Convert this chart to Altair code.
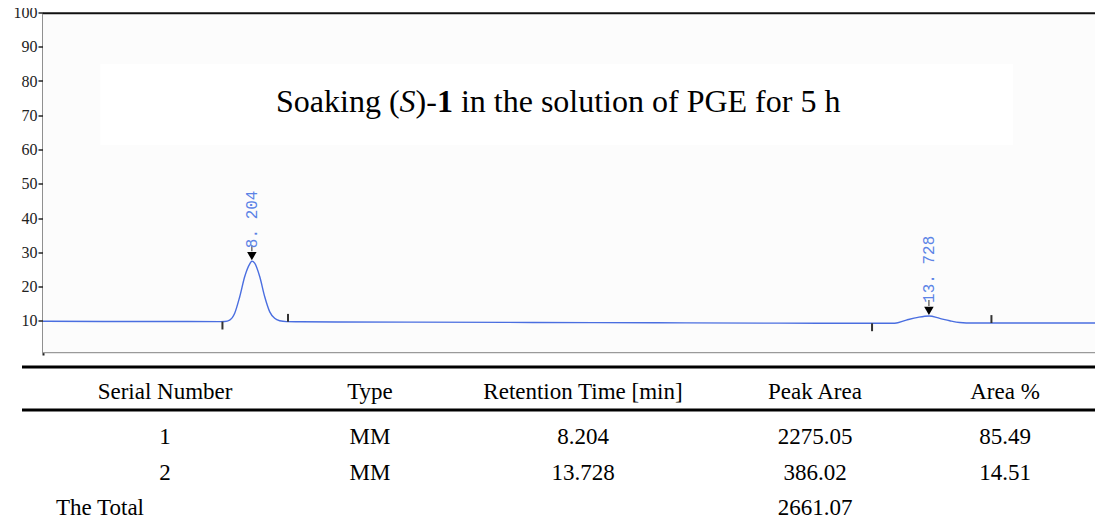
import altair as alt
import pandas as pd

# ---------------- data ----------------
# chromatogram trace: retention time (min) and detector signal
trace_time = [6.5, 7.0, 7.5, 7.95, 7.982, 8.023, 8.064, 8.105, 8.146, 8.187,
              8.205, 8.227, 8.268, 8.309, 8.350, 8.390, 8.431, 8.486, 8.6,
              9.5, 10.5, 11.5, 12.5, 13.2, 13.449, 13.544, 13.639, 13.729,
              13.816, 13.898, 13.979, 14.088, 14.248, 14.6, 15.083]
trace_signal = [9.85, 9.8, 9.78, 9.75, 9.78, 10.2, 12.2, 17.0, 22.9, 26.6,
                27.4, 26.8, 22.9, 17.0, 12.6, 10.7, 10.0, 9.75, 9.7,
                9.6, 9.5, 9.4, 9.3, 9.25, 9.28, 10.2, 11.0, 11.4,
                10.7, 10.0, 9.5, 9.35, 9.35, 9.35, 9.35]

peak_times = [8.204, 13.728]
peak_heights = [27.4, 11.4]
peak_labels = ["8. 204", "13. 728"]

# integration start / end marks
event_times = [7.964, 8.499, 13.264, 14.238]
event_base = [9.75, 9.7, 9.25, 9.35]
event_dir = [-1, 1, -1, 1]

x_domain = [6.5, 15.083]
y_domain = [0, 100]
y_tick_values = [10, 20, 30, 40, 50, 60, 70, 80, 90, 100]

title_parts = ["Soaking (", "S", ")-", "1", "in the solution of PGE for 5 h"]
title_styles = ["normal", "italic", "normal", "normal", "normal"]
title_weights = ["normal", "normal", "normal", "bold", "normal"]

table_header = ["Serial Number", "Type", "Retention Time [min]", "Peak Area", "Area %"]
serial_numbers = ["1", "2"]
peak_types = ["MM", "MM"]
retention_times = ["8.204", "13.728"]
peak_areas = ["2275.05", "386.02"]
area_percents = ["85.49", "14.51"]
total_label = "The Total"
total_area = "2661.07"

# ---------------- layout ----------------
W = 1052
H = 509
PLOT_H = 342.5
LINE_COLOR = "#4a6ee0"
LABEL_COLOR = "#5b83e6"
SERIF = "Liberation Serif"

xs = alt.Scale(domain=x_domain, range=[0, W], nice=False, zero=False)
ys = alt.Scale(domain=y_domain, range=[PLOT_H, 0], nice=False, zero=False)

one = pd.DataFrame({"k": [0]})

bg = alt.Chart(one).mark_rect(color="#fcfcfc").encode(
    x=alt.value(0), x2=alt.value(W), y=alt.value(0), y2=alt.value(340))
title_box = alt.Chart(one).mark_rect(color="#ffffff").encode(
    x=alt.value(57.5), x2=alt.value(970), y=alt.value(51.5), y2=alt.value(132.5))
top_border = alt.Chart(one).mark_rule(color="#111111", strokeWidth=2).encode(
    x=alt.value(0), x2=alt.value(W), y=alt.value(0.8))
bottom_border = alt.Chart(one).mark_rule(color="#9a9a9a", strokeWidth=1.3).encode(
    x=alt.value(0), x2=alt.value(W), y=alt.value(340.2))

trace = pd.DataFrame({"t": trace_time, "v": trace_signal})
yaxis = alt.Axis(values=y_tick_values, grid=False, domainColor="#222222", domainWidth=2,
                 tickColor="#222222", tickWidth=1.5, tickSize=5, labelFont=SERIF,
                 labelFontSize=16, labelColor="#222222", labelPadding=1, title=None)
line = alt.Chart(trace).mark_line(color=LINE_COLOR, strokeWidth=1.4, interpolate="monotone").encode(
    x=alt.X("t:Q", scale=xs, axis=None),
    y=alt.Y("v:Q", scale=ys, axis=yaxis))

events = pd.DataFrame({"t": event_times, "b": event_base, "d": event_dir})
event_marks = alt.Chart(events).transform_calculate(
    e="datum.b + datum.d * 2.3").mark_rule(color="#333333", strokeWidth=2).encode(
    x=alt.X("t:Q", scale=xs), y=alt.Y("b:Q", scale=ys), y2="e:Q")

peaks = pd.DataFrame({"t": peak_times, "h": peak_heights, "lab": peak_labels})
arrows = alt.Chart(peaks).mark_point(shape="triangle-down", filled=True, color="#000000",
                                     opacity=1, size=90, yOffset=-5).encode(
    x=alt.X("t:Q", scale=xs), y=alt.Y("h:Q", scale=ys))
stems = alt.Chart(peaks).mark_tick(orient="vertical", color="#000000", size=6,
                                   thickness=1.2, yOffset=-13).encode(
    x=alt.X("t:Q", scale=xs), y=alt.Y("h:Q", scale=ys))
labels = alt.Chart(peaks).mark_text(angle=270, align="left", baseline="middle", dx=13,
                                    font="Liberation Mono", fontSize=16, color=LABEL_COLOR).encode(
    x=alt.X("t:Q", scale=xs), y=alt.Y("h:Q", scale=ys), text="lab:N")

layers = [bg, title_box, top_border, bottom_border, line, event_marks, arrows, stems, labels]

title_x = [233, 356.6, 372.6, 393.9, 417.9]
for part, style, weight, px in zip(title_parts, title_styles, title_weights, title_x):
    layers.append(alt.Chart(pd.DataFrame({"s": [part]})).mark_text(
        align="left", baseline="alphabetic", font=SERIF, fontSize=32,
        fontStyle=style, fontWeight=weight, color="#000000").encode(
        x=alt.value(px), y=alt.value(99.5), text="s:N"))

# ---------------- table ----------------
for yy in [354.5, 397.5]:
    layers.append(alt.Chart(one).mark_rule(color="#000000", strokeWidth=3).encode(
        x=alt.value(-21), x2=alt.value(1056), y=alt.value(yy)))

col_x = [122, 327, 540, 772, 962]
row_y = [424.5, 460.5]
header_y = 379.5
total_y = 495.5


def cell(txt, px, py):
    return alt.Chart(pd.DataFrame({"s": [txt]})).mark_text(
        align="center", baseline="middle", font=SERIF, fontSize=23, color="#000000").encode(
        x=alt.value(px), y=alt.value(py), text="s:N")


for txt, px in zip(table_header, col_x):
    layers.append(cell(txt, px, header_y))
columns = [serial_numbers, peak_types, retention_times, peak_areas, area_percents]
for values, px in zip(columns, col_x):
    for txt, py in zip(values, row_y):
        layers.append(cell(txt, px, py))
layers.append(cell(total_label, 57, total_y))
layers.append(cell(total_area, col_x[3], total_y))

chart = alt.layer(*layers).properties(
    width=W, height=H,
    autosize=alt.AutoSizeParams(type="none"),
    padding={"left": 35, "top": 4.5, "right": 0, "bottom": 0},
    background="#ffffff",
).configure_view(stroke=None)

chart.save("out.html", embed_options={"renderer": "svg", "actions": False})
